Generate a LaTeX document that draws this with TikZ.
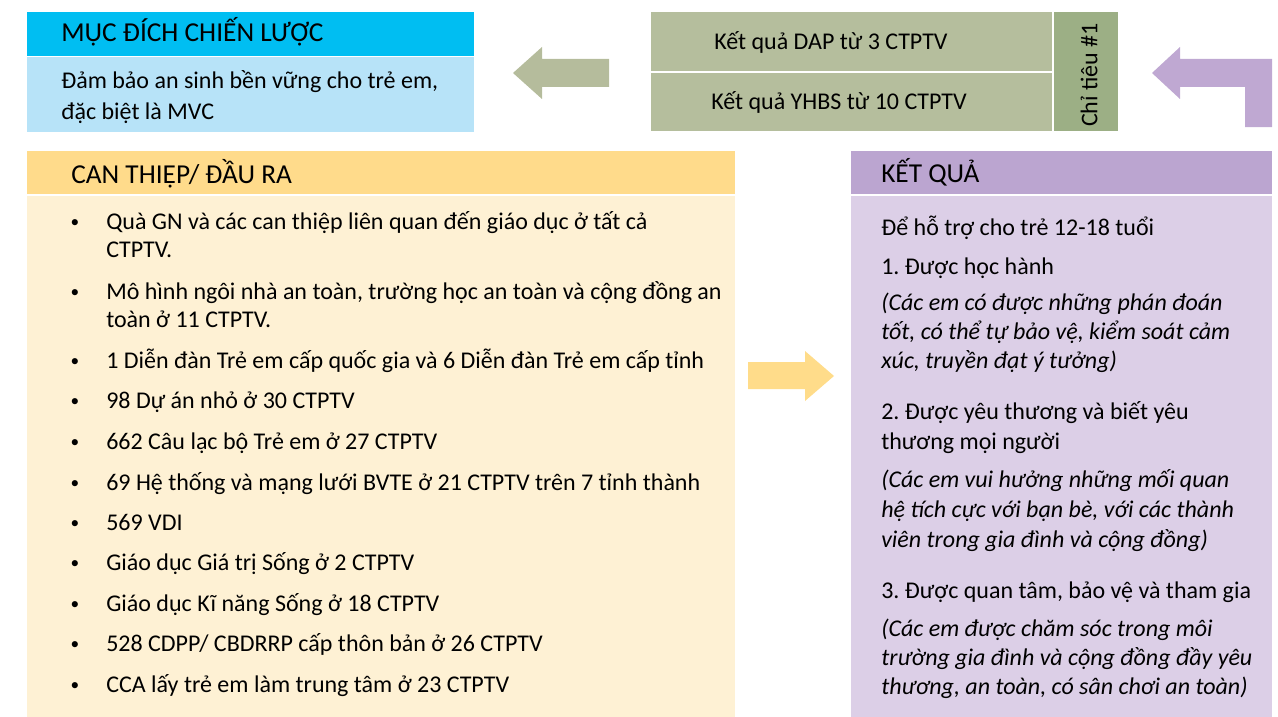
\documentclass[tikz,border=0pt]{standalone}
\usepackage{fontspec}
\setmainfont{Carlito}
\usetikzlibrary{positioning}
\frenchspacing

\definecolor{goalhd}{HTML}{00BEF2}
\definecolor{goalbd}{HTML}{B7E3F8}
\definecolor{greenrow}{HTML}{B5BE9D}
\definecolor{greenside}{HTML}{9CAF85}
\definecolor{greenarr}{HTML}{B5BC9C}
\definecolor{yelhd}{HTML}{FFDB8B}
\definecolor{yelbd}{HTML}{FEF1D4}
\definecolor{yelarr}{HTML}{FFDC8A}
\definecolor{purhd}{HTML}{BBA5D0}
\definecolor{purbd}{HTML}{DCCFE7}
\definecolor{purarr}{HTML}{BFA8D2}

\tikzset{
	txt/.style={anchor=base west, inner sep=0pt},
	it/.style={txt, font=\fontsize{18}{22}\selectfont\itshape},
	hd/.style={txt, font=\fontsize{20.5}{24}\selectfont},
	blt/.style={anchor=base, inner sep=0pt, font=\fontsize{13}{13}\selectfont, yshift=1pt},
}

\begin{document}
\begin{tikzpicture}[x=0.75pt, y=-0.75pt, font=\fontsize{18}{22}\selectfont]
	\useasboundingbox (0,0) rectangle (1278,717);

	% panels
	\fill[goalhd]		(27,12)		rectangle (474,56);
	\fill[goalbd]		(27,57)		rectangle (474,132);
	\fill[greenrow]		(651,12)	rectangle (1052,71);
	\fill[greenrow]		(651,73)	rectangle (1052,131);
	\fill[greenside]	(1054,12)	rectangle (1118,131);
	\fill[yelhd]		(27,151)	rectangle (735,194);
	\fill[yelbd]		(27,196)	rectangle (735,717);
	\fill[purhd]		(851,151)	rectangle (1272,194);
	\fill[purbd]		(851,196)	rectangle (1272,717);

	% block arrows
	\fill[greenarr]	(513,73) -- (542,47) -- (542,59) -- (609,59) -- (609,87) -- (542,87) -- (542,99) -- cycle;
	\fill[purarr]	(1152,73) -- (1180,47) -- (1180,59) -- (1272,59) -- (1272,127) -- (1245,127)
					-- (1245,87) -- (1180,87) -- (1180,99) -- cycle;
	\fill[yelarr]	(748,362) -- (805,362) -- (805,351) -- (834,376) -- (805,401) -- (805,389) -- (748,389) -- cycle;

	% top row
	\node[hd]	(MD)	at (61,42)		{MỤC ĐÍCH CHIẾN LƯỢC};
	\node[txt]	(MD1)	at (61,89)		{Đảm bảo an sinh bền vững cho trẻ em,};
	\node[txt]	(MD2)	at (61,119)		{đặc biệt là MVC};
	\node[txt]	(DAP)	at (714,50)		{Kết quả DAP từ 3 CTPTV};
	\node[txt]	(YHBS)	at (711,109)	{Kết quả YHBS từ 10 CTPTV};
	\node[rotate=90, inner sep=0pt]	(CT)	at (1089,75)	{Chỉ tiêu \#1};

	% can thiep / dau ra
	\node[hd]	(CTH)	at (71,183)		{CAN THIỆP/ ĐẦU RA};
	\node[txt]	(I1)	at (106,229)	{Quà GN và các can thiệp liên quan đến giáo dục ở tất cả};
	\node[txt]	(I1b)	at (106,257)	{CTPTV.};
	\node[txt]	(I2)	at (106,299)	{Mô hình ngôi nhà an toàn, trường học an toàn và cộng đồng an};
	\node[txt]	(I2b)	at (106,327)	{toàn ở 11 CTPTV.};
	\node[txt]	(I3)	at (106,368)	{1 Diễn đàn Trẻ em cấp quốc gia và 6 Diễn đàn Trẻ em cấp tỉnh};
	\node[txt]	(I4)	at (106,408)	{98 Dự án nhỏ ở 30 CTPTV};
	\node[txt]	(I5)	at (106,449)	{662 Câu lạc bộ Trẻ em ở 27 CTPTV};
	\node[txt]	(I6)	at (106,490)	{69 Hệ thống và mạng lưới BVTE ở 21 CTPTV trên 7 tỉnh thành};
	\node[txt]	(I7)	at (106,530)	{569 VDI};
	\node[txt]	(I8)	at (106,570)	{Giáo dục Giá trị Sống ở 2 CTPTV};
	\node[txt]	(I9)	at (106,611)	{Giáo dục Kĩ năng Sống ở 18 CTPTV};
	\node[txt]	(I10)	at (106,651)	{528 CDPP/ CBDRRP cấp thôn bản ở 26 CTPTV};
	\node[txt]	(I11)	at (106,692)	{CCA lấy trẻ em làm trung tâm ở 23 CTPTV};
	\foreach \n in {I1,I2,I3,I4,I5,I6,I7,I8,I9,I10,I11}
		\node[blt] at ([xshift=-31*0.75pt]\n.base west) {\textbullet};

	% ket qua
	\node[hd]	(KQ)	at (881,182)	{KẾT QUẢ};
	\node[txt]	(K0)	at (881,235)	{Để hỗ trợ cho trẻ 12-18 tuổi};
	\node[txt]	(K1)	at (881,274)	{1. Được học hành};
	\node[it]	(K1a)	at (881,310)	{(Các em có được những phán đoán};
	\node[it]	(K1b)	at (881,339)	{tốt, có thể tự bảo vệ, kiểm soát cảm};
	\node[it]	(K1c)	at (881,368)	{xúc, truyền đạt ý tưởng)};
	\node[txt]	(K2)	at (881,419)	{2. Được yêu thương và biết yêu};
	\node[txt]	(K2b)	at (881,449)	{thương mọi người};
	\node[it]	(K2c)	at (881,487)	{(Các em vui hưởng những mối quan};
	\node[it]	(K2d)	at (881,517)	{hệ tích cực với bạn bè, với các thành};
	\node[it]	(K2e)	at (881,547)	{viên trong gia đình và cộng đồng)};
	\node[txt]	(K3)	at (881,598)	{3. Được quan tâm, bảo vệ và tham gia};
	\node[it]	(K3a)	at (881,636)	{(Các em được chăm sóc trong môi};
	\node[it]	(K3b)	at (881,665)	{trường gia đình và cộng đồng đầy yêu};
	\node[it]	(K3c)	at (881,694)	{thương, an toàn, có sân chơi an toàn)};
\end{tikzpicture}
\end{document}
